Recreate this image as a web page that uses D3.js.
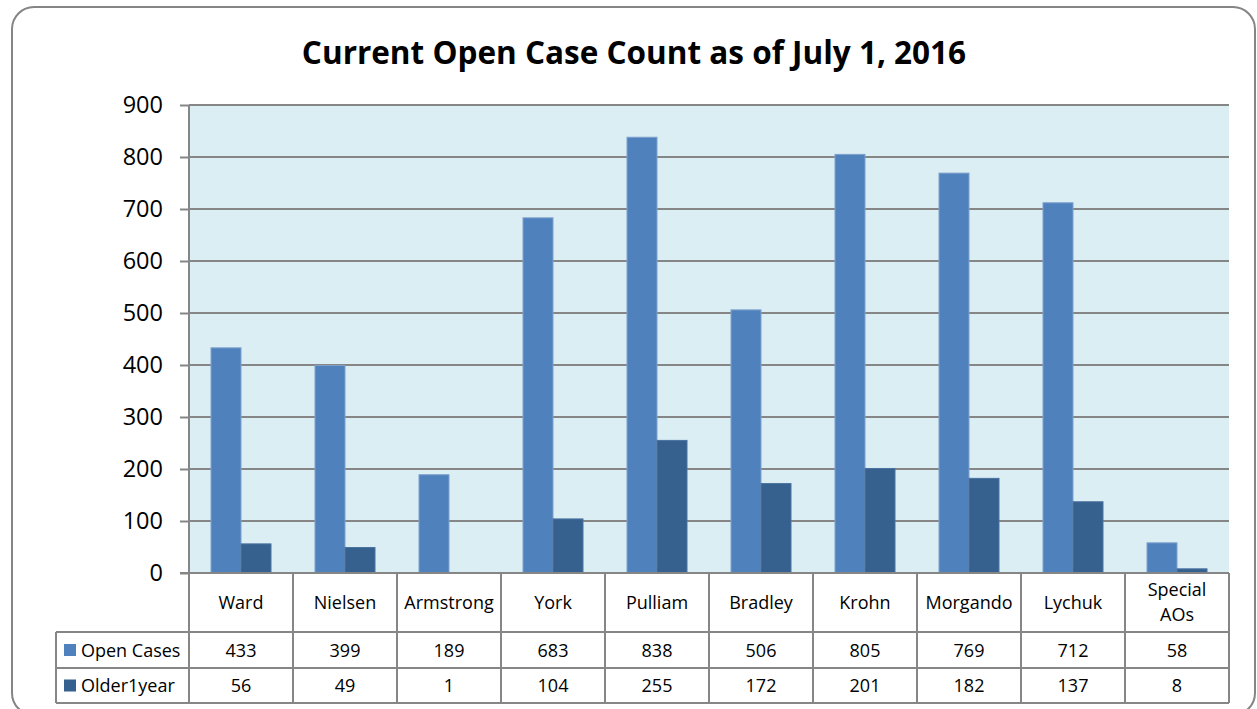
<!DOCTYPE html>
<html>
<head>
<meta charset="utf-8">
<script src="https://cdn.jsdelivr.net/npm/d3@7"></script>
<style>
  body { margin: 0; background: #fff; }
  svg { display: block; }
  text { font-family: "Open Sans", "Noto Sans", sans-serif; fill: #000; }
</style>
</head>
<body>
<svg id="chart" width="1257" height="709"></svg>
<script>
// chart data
var categories = ['Ward', 'Nielsen', 'Armstrong', 'York', 'Pulliam', 'Bradley', 'Krohn', 'Morgando', 'Lychuk', 'Special AOs'];
var seriesNames = ['Open Cases', 'Older1year'];
var openCases = [433, 399, 189, 683, 838, 506, 805, 769, 712, 58];
var older1year = [56, 49, 1, 104, 255, 172, 201, 182, 137, 8];
var yTicks = [0, 100, 200, 300, 400, 500, 600, 700, 800, 900];
var colors = ['#4F81BD', '#36618F'];

(function() {

    var svg = d3.select('#chart');
    var values = [openCases, older1year];

    var plot = {left: 189, right: 1229, top: 105, bottom: 573};
    var rowY = [573, 632, 668, 703];
    var legendLeft = 56;

    // outer frame (bottom and right edges run past the page)
    svg.append('rect')
        .attr('x', 12).attr('y', 7)
        .attr('width', 1243).attr('height', 708)
        .attr('rx', 22).attr('ry', 22)
        .attr('fill', '#fff')
        .attr('stroke', '#858585')
        .attr('stroke-width', 2);

    svg.append('text')
        .attr('x', 634)
        .attr('y', 64)
        .attr('text-anchor', 'middle')
        .style('font-size', '31.5px')
        .style('font-weight', 'bold')
        .text('Current Open Case Count as of July 1, 2016');

    var x = d3.scaleBand()
        .domain(categories)
        .range([plot.left, plot.right]);

    var x1 = d3.scaleBand()
        .domain(seriesNames)
        .range([22, x.bandwidth() - 22]);

    var y = d3.scaleLinear()
        .domain([0, 900])
        .range([plot.bottom, plot.top]);

    // plot background
    svg.append('rect')
        .attr('x', plot.left).attr('y', plot.top)
        .attr('width', plot.right - plot.left)
        .attr('height', plot.bottom - plot.top)
        .attr('fill', '#DBEEF4');

    // tick marks + y labels
    var yAxis = svg.append('g')
        .attr('transform', 'translate(' + plot.left + ',0)')
        .call(d3.axisLeft(y).tickValues(yTicks).tickSize(9).tickPadding(17));
    yAxis.select('.domain').remove();
    yAxis.selectAll('line').attr('stroke', '#868686').attr('stroke-width', 2);
    yAxis.selectAll('text').style('font-size', '23.5px').attr('fill', '#000');

    // gridlines
    svg.append('g')
        .selectAll('line')
        .data(yTicks.filter(function(t) { return t > 0; }))
      .enter().append('line')
        .attr('x1', plot.left).attr('x2', plot.right)
        .attr('y1', function(d) { return y(d); })
        .attr('y2', function(d) { return y(d); })
        .attr('stroke', '#868686')
        .attr('stroke-width', 2);

    // bars
    var groups = svg.append('g')
        .selectAll('g')
        .data(categories)
      .enter().append('g')
        .attr('transform', function(d) { return 'translate(' + x(d) + ',0)'; });

    groups.selectAll('rect')
        .data(function(d, i) {
            return seriesNames.map(function(s, j) {
                return {series: s, value: values[j][i], idx: j};
            });
        })
      .enter().append('rect')
        .attr('x', function(d) { return x1(d.series); })
        .attr('width', x1.bandwidth())
        .attr('y', function(d) { return y(d.value); })
        .attr('height', function(d) { return y(0) - y(d.value); })
        .attr('fill', function(d) { return colors[d.idx]; })
        .attr('stroke', function(d) { return d.idx === 0 ? '#7FA1CC' : '#4A72A0'; })
        .attr('stroke-width', 1);

    // y axis line
    svg.append('line')
        .attr('x1', plot.left).attr('x2', plot.left)
        .attr('y1', plot.top).attr('y2', plot.bottom)
        .attr('stroke', '#868686').attr('stroke-width', 2);

    // data table
    var table = svg.append('g');
    var gridStroke = '#868686';

    rowY.forEach(function(ry, i) {
        table.append('line')
            .attr('x1', i === 0 ? plot.left - 9 : legendLeft)
            .attr('x2', plot.right)
            .attr('y1', ry).attr('y2', ry)
            .attr('stroke', gridStroke).attr('stroke-width', 2);
    });

    var colEdges = categories.map(function(c) { return x(c); }).concat([plot.right]);
    table.selectAll('.vline')
        .data(colEdges)
      .enter().append('line')
        .attr('x1', function(d) { return d; })
        .attr('x2', function(d) { return d; })
        .attr('y1', rowY[0]).attr('y2', rowY[3])
        .attr('stroke', gridStroke).attr('stroke-width', 2);

    table.append('line')
        .attr('x1', legendLeft).attr('x2', legendLeft)
        .attr('y1', rowY[1]).attr('y2', rowY[3])
        .attr('stroke', gridStroke).attr('stroke-width', 2);

    // category headers
    var headers = table.selectAll('.hdr')
        .data(categories)
      .enter().append('text')
        .attr('text-anchor', 'middle')
        .style('font-size', '18px')
        .attr('x', function(d) { return x(d) + x.bandwidth() / 2; });

    headers.each(function(d) {
        var t = d3.select(this);
        if (d === 'Special AOs') {
            t.append('tspan').attr('x', x(d) + x.bandwidth() / 2).attr('y', 596).text('Special');
            t.append('tspan').attr('x', x(d) + x.bandwidth() / 2).attr('y', 621).text('AOs');
        } else {
            t.attr('y', 609).text(d);
        }
    });

    // value rows + legend keys
    seriesNames.forEach(function(s, j) {
        var mid = (rowY[j + 1] + rowY[j + 2]) / 2;

        table.append('rect')
            .attr('x', 64).attr('y', mid - 6)
            .attr('width', 12).attr('height', 12)
            .attr('fill', colors[j]);

        table.append('text')
            .attr('x', 81).attr('y', mid + 6.5)
            .style('font-size', '18px')
            .text(s);

        table.selectAll('.v' + j)
            .data(values[j])
          .enter().append('text')
            .attr('text-anchor', 'middle')
            .attr('x', function(d, i) { return x(categories[i]) + x.bandwidth() / 2; })
            .attr('y', mid + 6.5)
            .style('font-size', '18px')
            .text(function(d) { return d; });
    });

})();
</script>
</body>
</html>
